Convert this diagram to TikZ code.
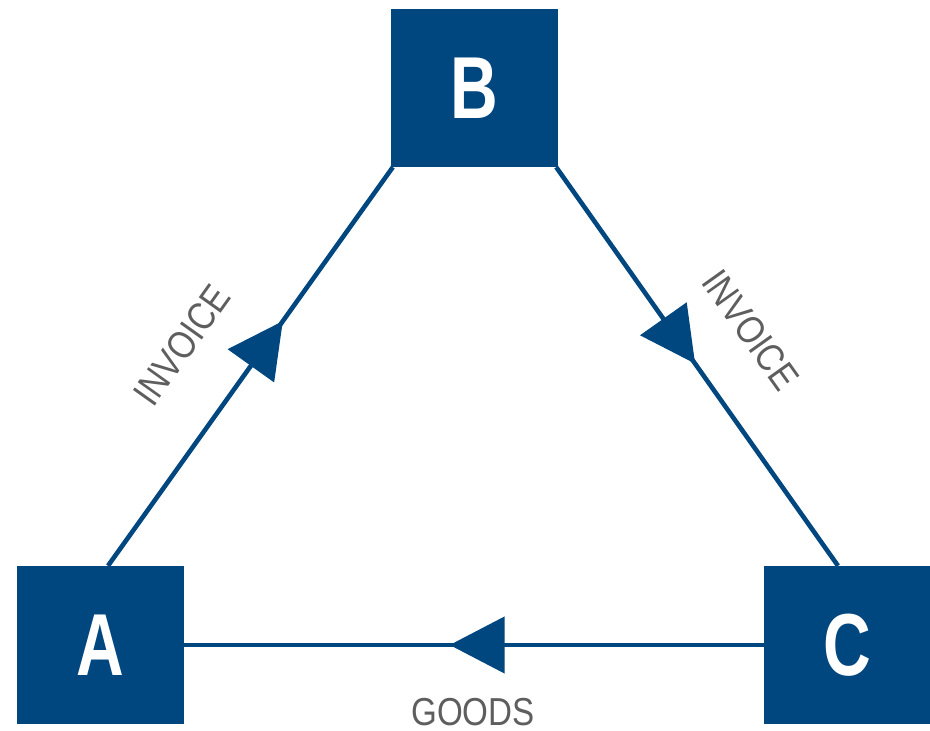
\documentclass[tikz,border=0pt]{standalone}
\usepackage{fontspec}
\setmainfont{Liberation Sans}
\newfontfamily\boxfont{Liberation Sans}[FakeStretch=0.75]
\newfontfamily\lblfont{Liberation Sans}[FakeStretch=0.85]
\usetikzlibrary{arrows.meta,decorations.markings}
\definecolor{myblue}{HTML}{00467F}
\definecolor{mygray}{HTML}{5E5E5E}
\tikzset{
  box/.style={rectangle, fill=myblue, text=white, minimum width=167pt, minimum height=158pt, inner sep=0pt, font=\boxfont\bfseries\fontsize{88}{88}\selectfont},
  conn/.style={draw=myblue, line width=4.6pt},
  midarrow/.style={postaction={decorate}, decoration={markings, mark=at position #1 with {\arrow[myblue]{Triangle[length=55pt,width=56pt]}}}},
  lbl/.style={text=mygray, inner sep=0pt, font=\lblfont\fontsize{39}{39}\selectfont}
}
\begin{document}
\begin{tikzpicture}[x=1pt,y=1pt]
\useasboundingbox (0,0) rectangle (930,731);
\node[box] (B) at (474.5,643) {B};
\node[box] (A) at (100.5,86) {A};
\node[box] (C) at (847.5,86) {C};
\draw[conn, midarrow=0.614] ([xshift=7.5pt]A.north) -- ([xshift=2pt]B.south west);
\draw[conn, midarrow=0.493] ([xshift=-2pt]B.south east) -- ([xshift=-9.5pt]C.north);
\draw[conn, midarrow=0.542] (C.west) -- (A.east);
\node[lbl, rotate=54.5] (l1) at (182,386) {INVOICE};
\node[lbl, rotate=-54.5] (l2) at (751,401) {INVOICE};
\node[lbl] (l3) at (473,19) {GOODS};
\end{tikzpicture}
\end{document}
